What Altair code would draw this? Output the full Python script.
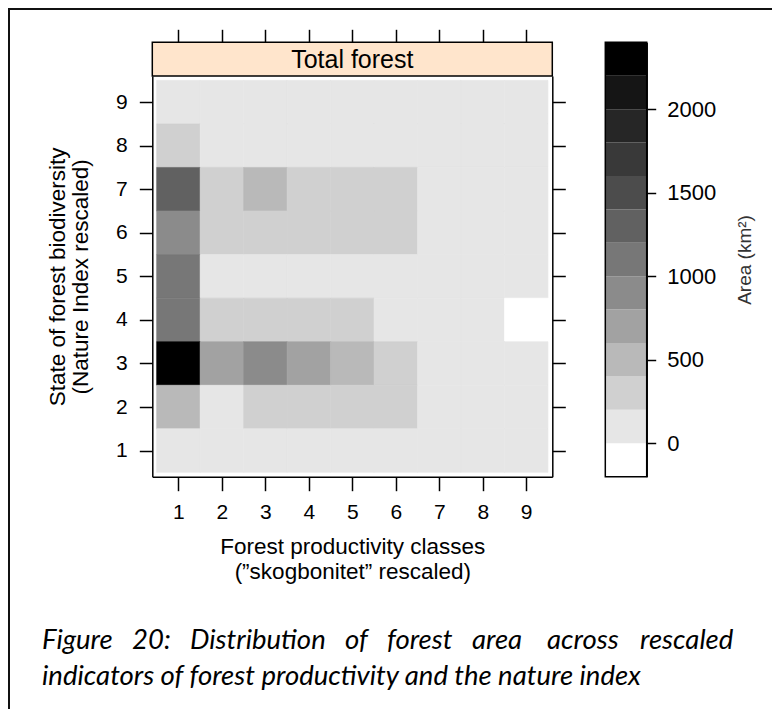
import altair as alt
import pandas as pd

# ---------------- data ----------------
productivity = [1, 2, 3, 4, 5, 6, 7, 8, 9]          # x classes
biodiversity = [9, 8, 7, 6, 5, 4, 3, 2, 1]          # y classes, top -> bottom
area_row9 = [120, 80, 60, 50, 40, 30, 20, 10, 10]
area_row8 = [310, 150, 110, 90, 70, 50, 30, 20, 10]
area_row7 = [1290, 330, 510, 320, 290, 250, 120, 60, 20]
area_row6 = [950, 340, 300, 290, 270, 230, 110, 50, 20]
area_row5 = [1120, 180, 160, 140, 120, 90, 60, 30, 10]
area_row4 = [1080, 260, 280, 250, 230, 150, 80, 40, -150]
area_row3 = [2380, 720, 930, 690, 510, 310, 140, 60, 20]
area_row2 = [470, 190, 320, 300, 270, 240, 110, 50, 10]
area_row1 = [90, 60, 70, 60, 50, 40, 30, 20, 10]
area_rows = [area_row9, area_row8, area_row7, area_row6, area_row5,
             area_row4, area_row3, area_row2, area_row1]

level_breaks = [0, 200, 400, 600, 800, 1000, 1200, 1400, 1600, 1800, 2000, 2200]
key_min, key_max = -200, 2400
key_ticks = [0, 500, 1000, 1500, 2000]
gray_levels = ["#ffffff", "#e6e6e6", "#d0d0d0", "#b9b9b9", "#a2a2a2", "#8b8b8b",
               "#777777", "#616161", "#4c4c4c", "#393939", "#262626", "#151515", "#000000"]

strip_label = "Total forest"
x_title = ["Forest productivity classes", "(\u201dskogbonitet\u201d rescaled)"]
y_title = ["State of forest biodiversity", "(Nature Index rescaled)"]
key_title = "Area (km\u00b2)"
caption_line1 = ["Figure", "20:", "Distribution", "of", "forest", "area", "across", "rescaled"]
caption_line2 = "indicators of forest productivity and the nature index"

# ---------------- tables ----------------
cells = []
for row, vals in zip(biodiversity, area_rows):
    for col, v in zip(productivity, vals):
        cells.append({"col": col, "row": row, "x0": col - 0.5, "x1": col + 0.5,
                      "y0": row - 0.5, "y1": row + 0.5, "area": v})
cells = pd.DataFrame(cells)

edges = [key_min] + level_breaks + [key_max]
key_df = pd.DataFrame({"lo": edges[:-1], "hi": edges[1:]})
key_df["mid"] = (key_df["lo"] + key_df["hi"]) / 2
frame_df = pd.DataFrame({"lo": [key_min], "hi": [key_max]})

# ---------------- layout (pixels in the svg) ----------------
W, H = 764, 701
PX0, PX1 = 144.3, 544.3      # panel left / right
PY0, PY1 = 68.0, 468.7       # panel top / bottom
SY0 = 34.3                   # strip top
KX0, KX1 = 597.3, 638.7      # colour key left / right
lim = [0.4, 9.6]
CAPTION_X = [34, 124, 182, 337, 379, 464, 539, 632]

xs = alt.Scale(domain=lim, range=[PX0, PX1], nice=False, zero=False)
ys = alt.Scale(domain=lim, range=[PY1, PY0], nice=False, zero=False)
ks = alt.Scale(domain=[key_min, key_max], range=[PY1, SY0], nice=False, zero=False)
cscale = alt.Scale(type="threshold", domain=level_breaks, range=gray_levels)

FONT = "Liberation Sans"

heat = alt.Chart(cells).mark_rect(strokeWidth=0.6).encode(
    x=alt.X("x0:Q", scale=xs,
            axis=alt.Axis(orient="bottom", offset=PY1 - H, values=productivity, format="d",
                          tickSize=14, labelPadding=11, title=x_title,
                          titlePadding=13, titleLineHeight=25)),
    x2="x1:Q",
    y=alt.Y("y0:Q", scale=ys,
            axis=alt.Axis(orient="left", offset=-PX0, values=productivity, format="d",
                          tickSize=13, labelPadding=12, title=y_title,
                          titlePadding=23, titleLineHeight=23)),
    y2="y1:Q",
    color=alt.Color("area:Q", scale=cscale, legend=None),
    stroke=alt.Stroke("area:Q", scale=cscale, legend=None),
)

right_ticks = alt.Chart(cells).mark_point(opacity=0).encode(
    y=alt.Y("row:Q", scale=ys,
            axis=alt.Axis(orient="right", offset=PX1 - W, values=productivity,
                          labels=False, tickSize=13, title=None)),
)

strip = alt.Chart(pd.DataFrame({"x0": [lim[0]], "x1": [lim[1]], "label": [strip_label]})).mark_rect(
    fill="#ffe5cc", stroke="black", strokeWidth=1.5
).encode(
    x=alt.X("x0:Q", scale=xs,
            axis=alt.Axis(orient="top", offset=-SY0, values=productivity,
                          labels=False, tickSize=13, title=None)),
    x2="x1:Q",
    y=alt.value(SY0), y2=alt.value(PY0),
)

strip_text = alt.Chart(pd.DataFrame({"label": [strip_label]})).mark_text(
    font=FONT, fontSize=25, color="black", baseline="middle", align="center"
).encode(x=alt.value((PX0 + PX1) / 2), y=alt.value((SY0 + PY0) / 2 + 1), text="label:N")

key = alt.Chart(key_df).mark_rect().encode(
    x=alt.value(KX0), x2=alt.value(KX1),
    y=alt.Y("lo:Q", scale=ks,
            axis=alt.Axis(orient="right", offset=KX1 - W, values=key_ticks, format="d",
                          tickSize=9, labelPadding=11, labelFontSize=22,
                          title=key_title, titleAngle=270, titleBaseline="top",
                          titleFontSize=19, titleColor="#333333", titlePadding=20)),
    y2="hi:Q",
    color=alt.Color("mid:Q", scale=cscale, legend=None),
)

key_frame = alt.Chart(frame_df).mark_rect(fill=None, stroke="black", strokeWidth=1.5).encode(
    x=alt.value(KX0), x2=alt.value(KX1),
    y=alt.Y("lo:Q", scale=ks, axis=None), y2="hi:Q",
)

cap1 = alt.Chart(pd.DataFrame({"word": caption_line1, "px": CAPTION_X})).mark_text(
    font="Lato", fontStyle="italic", fontSize=27.5, color="black", align="left", baseline="alphabetic"
).encode(
    x=alt.X("px:Q", scale=alt.Scale(domain=[0, W], range=[0, W], nice=False, zero=False), axis=None),
    y=alt.value(641), text="word:N",
)
cap2 = alt.Chart(pd.DataFrame({"line": [caption_line2]})).mark_text(
    font="Lato", fontStyle="italic", fontSize=27.5, color="black", align="left", baseline="alphabetic"
).encode(x=alt.value(CAPTION_X[0]), y=alt.value(677), text="line:N")

border_left = alt.Chart(pd.DataFrame({"a": [0]})).mark_rule(color="#111111", strokeWidth=2).encode(
    x=alt.value(1), y=alt.value(0), y2=alt.value(H))
border_top = alt.Chart(pd.DataFrame({"a": [0]})).mark_rule(color="#111111", strokeWidth=2).encode(
    y=alt.value(1), x=alt.value(0), x2=alt.value(W))

chart = alt.layer(
    heat, right_ticks, strip, strip_text, key, key_frame, cap1, cap2, border_left, border_top
).resolve_scale(
    x="independent", y="independent"
).resolve_axis(
    x="independent", y="independent"
).properties(
    width=W, height=H, padding=0, autosize=alt.AutoSizeParams(type="none")
).configure_view(
    stroke=None
).configure_axis(
    grid=False, domainColor="black", domainWidth=1.5, tickColor="black", tickWidth=1.5,
    labelFont=FONT, labelFontSize=21, labelColor="black",
    titleFont=FONT, titleFontSize=22.5, titleFontWeight="normal", titleColor="black",
)

chart.save("out.html", embed_options={"renderer": "svg", "actions": False})
